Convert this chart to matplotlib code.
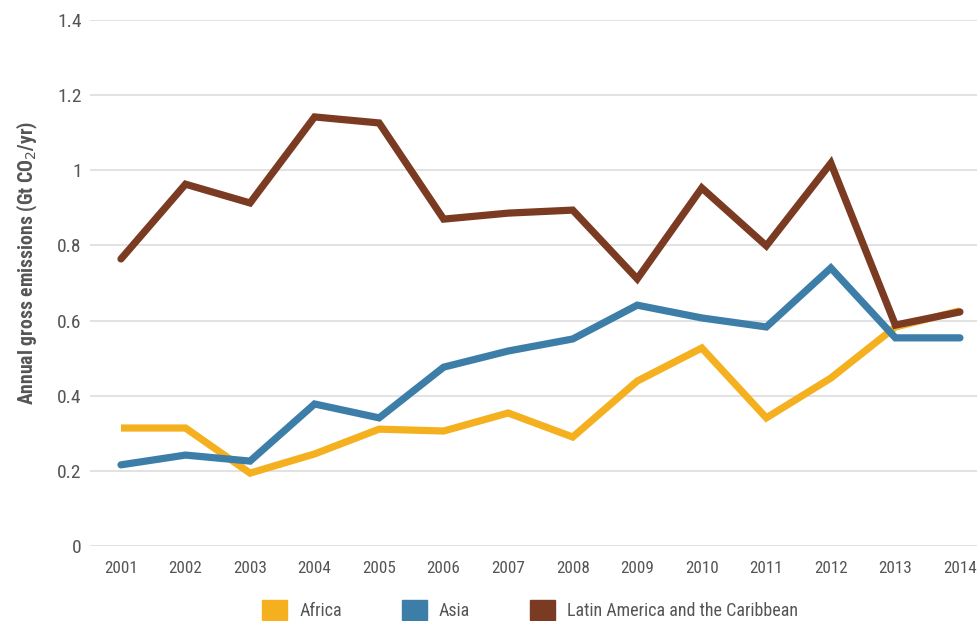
import matplotlib.pyplot as plt
from matplotlib.patches import Patch
from matplotlib import font_manager

# DATA
years = list(range(2001, 2015))
africa = [0.314, 0.314, 0.194, 0.245, 0.311, 0.306, 0.354, 0.290, 0.439, 0.527, 0.341, 0.447, 0.583, 0.626]
asia = [0.216, 0.242, 0.226, 0.378, 0.341, 0.476, 0.519, 0.551, 0.641, 0.607, 0.583, 0.740, 0.554, 0.554]
latam = [0.764, 0.963, 0.913, 1.142, 1.126, 0.870, 0.886, 0.894, 0.711, 0.953, 0.799, 1.019, 0.588, 0.623]
labels = ['Africa', 'Asia', 'Latin America and the Caribbean']
colors = ['#F5B01F', '#3D7EA8', '#7A3B22']
yticks = [0, 0.2, 0.4, 0.6, 0.8, 1, 1.2, 1.4]

# pick a narrow font if one is around
names = {f.name for f in font_manager.fontManager.ttflist}
font = 'DejaVu Sans'
narrow = False
for cand in ['Roboto Condensed', 'Liberation Sans Narrow', 'DejaVu Sans Condensed', 'Open Sans Condensed']:
    if cand in names:
        font = cand
        narrow = True
        break
plt.rcParams['font.family'] = [font, 'DejaVu Sans']
if not narrow:
    plt.rcParams['font.stretch'] = 'condensed'

xtick_fs = 12.3 if narrow else 10.5
ytick_fs = 14 if narrow else 12
leg_fs = 13 if narrow else 11.5
lab_fs = 14.2 if narrow else 12.5

fig = plt.figure(figsize=(9.78, 6.21), dpi=100)
ax = fig.add_axes([90/978, 1-546/621, 888/978, 526/621])

ax.plot(years, africa, color=colors[0], lw=5.2, solid_capstyle='butt', solid_joinstyle='miter', zorder=3)
ax.plot(years, asia, color=colors[1], lw=5.2, solid_capstyle='round', solid_joinstyle='miter', zorder=4)
ax.plot(years, latam, color=colors[2], lw=5.2, solid_capstyle='round', solid_joinstyle='miter', zorder=5)

ax.set_xlim(2000.52, 2014.28)
ax.set_ylim(0, 1.4)
ax.set_yticks(yticks)
ax.set_yticklabels(['0', '0.2', '0.4', '0.6', '0.8', '1', '1.2', '1.4'])
ax.set_xticks(years)
ax.grid(axis='y', color='#DDDDDD', lw=1.2)
ax.set_axisbelow(True)
for s in ax.spines.values():
    s.set_visible(False)
ax.tick_params(length=0, colors='#555555')
ax.tick_params(axis='y', pad=6, labelsize=ytick_fs)
ax.tick_params(axis='x', pad=11, labelsize=xtick_fs)
ax.set_ylabel('Annual gross emissions (Gt CO$_2$/yr)', fontsize=lab_fs, fontweight='bold',
              color='#555555', labelpad=0)
ax.yaxis.set_label_coords(-0.056, 0.538)

handles = [Patch(color=c) for c in colors]
fig.legend(handles, labels, loc='center', bbox_to_anchor=(530/978, 1-610/621), ncol=3,
           frameon=False, fontsize=leg_fs, labelcolor='#555555', handlelength=1.39, handleheight=1.39,
           columnspacing=3.3, handletextpad=0.67, borderpad=0)

fig.savefig('out.png', dpi=100)
